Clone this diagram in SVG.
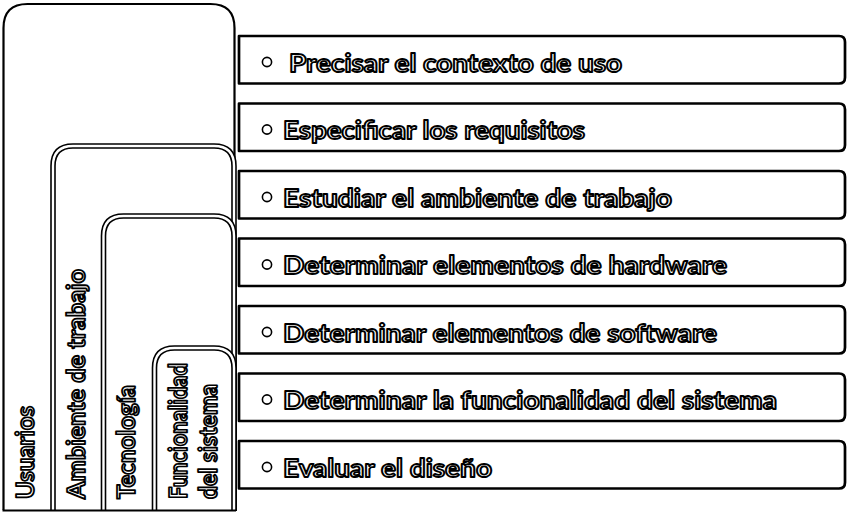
<svg xmlns="http://www.w3.org/2000/svg" width="850" height="519" viewBox="0 0 850 519">
<style>
.bg{fill:#fff}
.tabfill{fill:#fff;stroke:none}
.outer{fill:none;stroke:#000;stroke-width:2.2}
.dblk{fill:none;stroke:#000;stroke-width:5.6}
.dwht{fill:none;stroke:#fff;stroke-width:2.4}
.box{fill:#fff;stroke:#000;stroke-width:2.7;stroke-linejoin:round}
.bul{fill:#fff;stroke:#000;stroke-width:1.6}
.t{font-family:Lato,"Open Sans","Liberation Sans",sans-serif;font-weight:bold;font-size:25px;fill:#fff;stroke:#000;stroke-width:1.8;stroke-linejoin:round}
</style>
<rect class="bg" x="0" y="0" width="850" height="519"/>

<g id="usuarios">
<path class="tabfill" d="M3.5,510 V28 Q3.5,4 27.5,4 H210.5 Q234.5,4 234.5,28 V510 Z"/>
<path class="outer" d="M3.5,510 V28 Q3.5,4 27.5,4 H210.5 Q234.5,4 234.5,28 V510"/>
<text class="t" transform="translate(34,499) rotate(-90)" textLength="93" lengthAdjust="spacingAndGlyphs">Usuarios</text>
</g>

<g id="ambiente">
<path class="tabfill" d="M53,511 V166 Q53,146 73,146 H214 Q234,146 234,166 V511 Z"/>
<path class="dblk" d="M53,511 V166 Q53,146 73,146 H214 Q234,146 234,166 V511"/>
<path class="dwht" d="M53,511 V166 Q53,146 73,146 H214 Q234,146 234,166 V511"/>
<text class="t" transform="translate(85,499) rotate(-90)" textLength="230" lengthAdjust="spacingAndGlyphs">Ambiente de trabajo</text>
</g>

<g id="tecnologia">
<path class="tabfill" d="M103.5,511 V236 Q103.5,216 123.5,216 H214 Q234,216 234,236 V511 Z"/>
<path class="dblk" d="M103.5,511 V236 Q103.5,216 123.5,216 H214 Q234,216 234,236 V511"/>
<path class="dwht" d="M103.5,511 V236 Q103.5,216 123.5,216 H214 Q234,216 234,236 V511"/>
<text class="t" transform="translate(135,499) rotate(-90)" textLength="114" lengthAdjust="spacingAndGlyphs">Tecnología</text>
</g>

<g id="funcionalidad">
<path class="tabfill" d="M154.5,511 V368 Q154.5,348 174.5,348 H214 Q234,348 234,368 V511 Z"/>
<path class="dblk" d="M154.5,511 V368 Q154.5,348 174.5,348 H214 Q234,348 234,368 V511"/>
<path class="dwht" d="M154.5,511 V368 Q154.5,348 174.5,348 H214 Q234,348 234,368 V511"/>
<text class="t" transform="translate(187,499) rotate(-90)" textLength="136" lengthAdjust="spacingAndGlyphs">Funcionalidad</text>
<text class="t" transform="translate(217,499) rotate(-90)" textLength="115" lengthAdjust="spacingAndGlyphs">del sistema</text>
</g>

<g id="base">
<line class="outer" x1="2.5" y1="510.5" x2="236" y2="510.5"/>
</g>

<g id="item1">
<path class="box" d="M239,36 H839 Q845,36 845,42 V77.5 Q845,83.5 839,83.5 H239 Z"/>
<circle class="bul" cx="267" cy="62" r="4.6"/>
<text class="t" x="289" y="71.5" textLength="333" lengthAdjust="spacingAndGlyphs">Precisar el contexto de uso</text>
</g>
<g id="item2">
<path class="box" d="M239,103.5 H839 Q845,103.5 845,109.5 V145 Q845,151 839,151 H239 Z"/>
<circle class="bul" cx="267" cy="129.5" r="4.6"/>
<text class="t" x="283" y="139" textLength="302" lengthAdjust="spacingAndGlyphs">Especificar los requisitos</text>
</g>
<g id="item3">
<path class="box" d="M239,171 H839 Q845,171 845,177 V212.5 Q845,218.5 839,218.5 H239 Z"/>
<circle class="bul" cx="267" cy="197" r="4.6"/>
<text class="t" x="283" y="206.5" textLength="389" lengthAdjust="spacingAndGlyphs">Estudiar el ambiente de trabajo</text>
</g>
<g id="item4">
<path class="box" d="M239,238.5 H839 Q845,238.5 845,244.5 V280 Q845,286 839,286 H239 Z"/>
<circle class="bul" cx="267" cy="264.5" r="4.6"/>
<text class="t" x="283" y="274" textLength="444" lengthAdjust="spacingAndGlyphs">Determinar elementos de hardware</text>
</g>
<g id="item5">
<path class="box" d="M239,306 H839 Q845,306 845,312 V347.5 Q845,353.5 839,353.5 H239 Z"/>
<circle class="bul" cx="267" cy="332" r="4.6"/>
<text class="t" x="283" y="341.5" textLength="434" lengthAdjust="spacingAndGlyphs">Determinar elementos de software</text>
</g>
<g id="item6">
<path class="box" d="M239,373.5 H839 Q845,373.5 845,379.5 V415 Q845,421 839,421 H239 Z"/>
<circle class="bul" cx="267" cy="399.5" r="4.6"/>
<text class="t" x="283" y="409" textLength="494" lengthAdjust="spacingAndGlyphs">Determinar la funcionalidad del sistema</text>
</g>
<g id="item7">
<path class="box" d="M239,441 H839 Q845,441 845,447 V482.5 Q845,488.5 839,488.5 H239 Z"/>
<circle class="bul" cx="267" cy="467" r="4.6"/>
<text class="t" x="283" y="476.5" textLength="209" lengthAdjust="spacingAndGlyphs">Evaluar el diseño</text>
</g>
</svg>
